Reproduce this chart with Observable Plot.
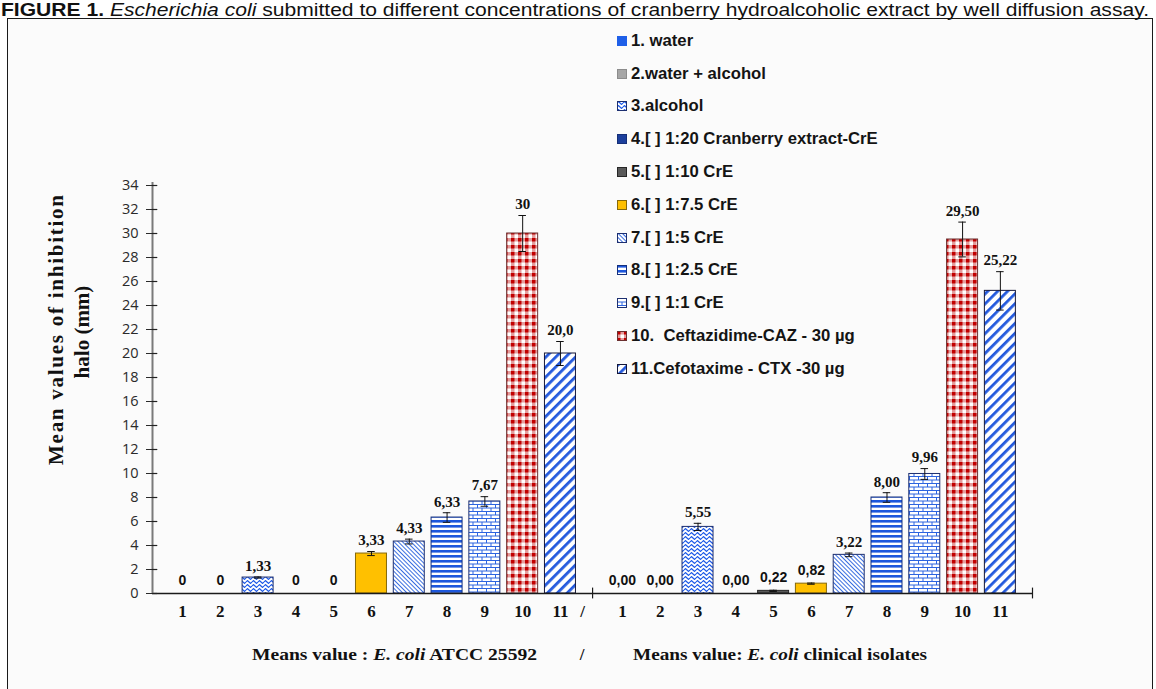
<!DOCTYPE html>
<html>
<head>
<meta charset="utf-8">
<script src="https://cdn.jsdelivr.net/npm/d3@7"></script>
<script src="https://cdn.jsdelivr.net/npm/@observablehq/plot@0.6"></script>
<style>
  body { margin: 0; background: #ffffff; }
  #root { position: relative; width: 1156px; height: 689px; overflow: hidden; background: #ffffff; }
  #frame { position: absolute; left: 7px; top: 18px; width: 1146px; height: 740px; border: 1.5px solid #1a1a1a; background: #fbfbfb; box-sizing: border-box; }
  #chart { position: absolute; left: 0; top: 0; }
  #overlay { position: absolute; left: 0; top: 0; pointer-events: none; }
  #legend { position: absolute; left: 617px; top: 24.5px; font-family: "Liberation Sans", Arial, sans-serif; font-weight: bold; font-size: 16.7px; color: #141414; }
  #legend .row { display: flex; align-items: center; height: 32.8px; white-space: pre; }
  #legend svg { margin-right: 4px; flex: none; }
</style>
</head>
<body>
<div id="root">
  <div id="frame"></div>
  <div id="chart"></div>
  <svg id="overlay" width="1156" height="689"></svg>
  <div id="legend"></div>
</div>
<svg width="0" height="0" style="position:absolute;left:0;top:0">
  <defs>
    <pattern id="pWave" patternUnits="userSpaceOnUse" width="6" height="4">
      <rect width="6" height="4" fill="#ffffff"/>
      <path d="M0,2 L1.5,0.6 L3,2 L4.5,3.4 L6,2" fill="none" stroke="#1f5be8" stroke-width="1.2"/>
    </pattern>
    <pattern id="pThin" patternUnits="userSpaceOnUse" width="3" height="3" patternTransform="rotate(-45)">
      <rect width="3" height="3" fill="#ffffff"/>
      <rect width="1" height="3" fill="#3a6ee0"/>
    </pattern>
    <pattern id="pHoriz" patternUnits="userSpaceOnUse" width="4" height="5">
      <rect width="4" height="5" fill="#ffffff"/>
      <rect width="4" height="2.6" fill="#1d57dc"/>
    </pattern>
    <pattern id="pBrick" patternUnits="userSpaceOnUse" width="9" height="7">
      <rect width="9" height="7" fill="#ffffff"/>
      <path d="M0,0.5 H9 M0,4 H9 M0.5,0.5 V4 M5,4 V7" fill="none" stroke="#2c64e0" stroke-width="1"/>
    </pattern>
    <pattern id="pCheck" patternUnits="userSpaceOnUse" width="7" height="7">
      <rect width="7" height="7" fill="#e39c9c"/>
      <rect x="0" y="0" width="3.5" height="3.5" fill="#c20000"/>
      <rect x="3.5" y="3.5" width="3.5" height="3.5" fill="#ffffff"/>
    </pattern>
    <pattern id="pWide" patternUnits="userSpaceOnUse" width="7" height="7" patternTransform="rotate(45)">
      <rect width="7" height="7" fill="#ffffff"/>
      <rect width="2.8" height="7" fill="#2359dd"/>
    </pattern>
  </defs>
</svg>
<script>
// ---------- data ----------
const categories = ["1", "2", "3", "4", "5", "6", "7", "8", "9", "10", "11"];
const legendLabels = [
  "1. water",
  "2.water + alcohol",
  "3.alcohol",
  "4.[ ] 1:20 Cranberry extract-CrE",
  "5.[ ] 1:10 CrE",
  "6.[ ] 1:7.5 CrE",
  "7.[ ] 1:5 CrE",
  "8.[ ] 1:2.5 CrE",
  "9.[ ] 1:1 CrE",
  "10.  Ceftazidime-CAZ - 30 µg",
  "11.Cefotaxime - CTX -30 µg"
];
const groups = ["E. coli ATCC 25592", "E. coli clinical isolates"];
const atccValues = [0, 0, 1.33, 0, 0, 3.33, 4.33, 6.33, 7.67, 30, 20.0];
const atccErrors = [0, 0, 0.05, 0, 0, 0.17, 0.2, 0.4, 0.4, 1.5, 1.0];
const atccLabels = ["0", "0", "1,33", "0", "0", "3,33", "4,33", "6,33", "7,67", "30", "20,0"];
const clinicalValues = [0, 0, 5.55, 0, 0.22, 0.82, 3.22, 8.00, 9.96, 29.50, 25.22];
const clinicalErrors = [0, 0, 0.3, 0, 0.05, 0.05, 0.15, 0.4, 0.45, 1.45, 1.6];
const clinicalLabels = ["0,00", "0,00", "5,55", "0,00", "0,22", "0,82", "3,22", "8,00", "9,96", "29,50", "25,22"];
const yTicks = [0, 2, 4, 6, 8, 10, 12, 14, 16, 18, 20, 22, 24, 26, 28, 30, 32, 34];

// ---------- styles ----------
const fills = ["#1f5fe8", "#a6a6a6", "url(#pWave)", "#1c3f9c", "#595959", "#ffc000",
               "url(#pThin)", "url(#pHoriz)", "url(#pBrick)", "url(#pCheck)", "url(#pWide)"];
const strokes = ["#1f5fe8", "#8c8c8c", "#1d2f70", "#152f78", "#262626", "#86690a",
                 "#1d2f70", "#14307e", "#1d2f70", "#6b3030", "#15183a"];
const GROUP_OFFSET = 11.64;     // category slots between first bars of the two groups
const HALF = 0.41;              // half bar width in category units
const xDomain = [0.206, 23.49];
const serif = "'Liberation Serif', 'Times New Roman', serif";
const sans = "'Liberation Sans', Arial, sans-serif";

const series = [
  {values: atccValues, errors: atccErrors, labels: atccLabels},
  {values: clinicalValues, errors: clinicalErrors, labels: clinicalLabels}
];
const rows = series.flatMap((s, gi) => categories.map((c, i) => ({
  group: groups[gi], cat: i, name: c,
  pos: i + 1 + gi * GROUP_OFFSET,
  value: s.values[i], err: s.errors[i], label: s.labels[i]
})));
const dividerPos = (11 + 1 + GROUP_OFFSET) / 2 + 0.03;
const errRows = rows.filter(d => d.err > 0);

const plot = Plot.plot({
  width: 1156, height: 689,
  marginLeft: 152, marginRight: 124, marginTop: 185, marginBottom: 96,
  style: {background: "transparent", overflow: "visible"},
  x: {domain: xDomain, axis: null},
  y: {domain: [0, 34], axis: null},
  color: {type: "identity"},
  marks: [
    Plot.rectY(rows.filter(d => d.value > 0), {
      x1: d => d.pos - HALF, x2: d => d.pos + HALF, y1: 0, y2: "value",
      fill: d => fills[d.cat], stroke: d => strokes[d.cat], strokeWidth: 1
    }),
    // error bars
    Plot.ruleX(errRows, {x: "pos", y1: d => d.value - d.err, y2: d => d.value + d.err, stroke: "#111", strokeWidth: 1}),
    Plot.ruleY(errRows, {y: d => d.value + d.err, x1: d => d.pos - 0.1, x2: d => d.pos + 0.1, stroke: "#111", strokeWidth: 1}),
    Plot.ruleY(errRows, {y: d => d.value - d.err, x1: d => d.pos - 0.1, x2: d => d.pos + 0.1, stroke: "#111", strokeWidth: 1}),
    // axes
    Plot.ruleY([0], {stroke: "#1a1a1a", strokeWidth: 1.5}),
    Plot.ruleX([dividerPos, xDomain[1]], {y1: -0.45, y2: 0.45, stroke: "#1a1a1a", strokeWidth: 1.2}),
    Plot.ruleX([xDomain[0]], {y1: 0, y2: 34.25, stroke: "#7a7a7a", strokeWidth: 2}),
    Plot.ruleY(yTicks, {x1: xDomain[0], x2: xDomain[0] + 0.14, stroke: "#222", strokeWidth: 1.2}),
    Plot.axisY(yTicks, {label: null, tickSize: 6, tickPadding: 8, fontSize: 14.5, fontFamily: "'Open Sans', Lato, sans-serif", color: "#2a2a2a", tickFormat: d => String(d)}),
    // value labels
    Plot.text(rows.filter(d => d.value >= 1), {
      x: "pos", y: d => d.value + d.err, text: "label", dy: -11,
      fontFamily: serif, fontWeight: "bold", fontSize: 15, fill: "#111"
    }),
    Plot.text(rows.filter(d => d.value < 1), {
      x: "pos", y: d => d.value + d.err, text: "label", dy: -13,
      fontFamily: sans, fontWeight: "bold", fontSize: 14, fill: "#111"
    }),
    // category labels
    Plot.text(rows, {
      x: "pos", y: 0, text: "name", dy: 18,
      fontFamily: serif, fontWeight: "bold", fontSize: 17, fill: "#111"
    }),
    Plot.text(["/"], {x: dividerPos, y: 0, text: d => d, dy: 18, dx: -10, fontFamily: serif, fontWeight: "bold", fontSize: 17, fill: "#111"})
  ]
});
document.getElementById("chart").appendChild(plot);

// ---------- overlay texts ----------
const ov = d3.select("#overlay");
const title = ov.append("text")
  .attr("x", 1).attr("y", 15.5)
  .attr("font-family", sans).attr("font-size", 17.5).attr("fill", "#111")
  .attr("textLength", 1148).attr("lengthAdjust", "spacingAndGlyphs");
title.append("tspan").attr("font-weight", "bold").text("FIGURE 1.");
title.append("tspan").attr("font-style", "italic").text("  Escherichia coli");
title.append("tspan").text(" submitted to different concentrations of cranberry hydroalcoholic extract by well diffusion assay.");

// y label
ov.append("text")
  .attr("transform", "translate(56,330) rotate(-90)")
  .attr("text-anchor", "middle").attr("dominant-baseline", "central")
  .attr("font-family", serif).attr("font-weight", "bold").attr("font-size", 21).attr("fill", "#111")
  .attr("textLength", 270).attr("lengthAdjust", "spacing")
  .text("Mean values of inhibition");
ov.append("text")
  .attr("transform", "translate(82,332) rotate(-90)")
  .attr("text-anchor", "middle").attr("dominant-baseline", "central")
  .attr("font-family", serif).attr("font-weight", "bold").attr("font-size", 21).attr("fill", "#111")
  .text("halo (mm)");

// caption
function caption(x, len, prefix, rest) {
  const t = ov.append("text").attr("x", x).attr("y", 660)
    .attr("font-family", serif).attr("font-weight", "bold").attr("font-size", 17).attr("fill", "#111")
    .attr("textLength", len).attr("lengthAdjust", "spacingAndGlyphs");
  t.append("tspan").text(prefix);
  t.append("tspan").attr("font-style", "italic").text("E. coli");
  t.append("tspan").text(rest);
}
caption(252, 285, "Means value : ", " ATCC 25592");
ov.append("text").attr("x", 582).attr("y", 660).attr("text-anchor", "middle")
  .attr("font-family", serif).attr("font-weight", "bold").attr("font-size", 17).attr("fill", "#111").text("/");
caption(633, 294, "Means value: ", " clinical isolates");

// ---------- legend ----------
const legend = d3.select("#legend");
legendLabels.forEach((lab, i) => {
  const row = legend.append("div").attr("class", "row");
  const sw = row.append("svg").attr("width", 10).attr("height", 10);
  sw.append("rect").attr("x", 0.5).attr("y", 0.5).attr("width", 9).attr("height", 9)
    .attr("fill", fills[i]).attr("stroke", strokes[i]).attr("stroke-width", 1);
  row.append("span").text(lab);
});
</script>
</body>
</html>
